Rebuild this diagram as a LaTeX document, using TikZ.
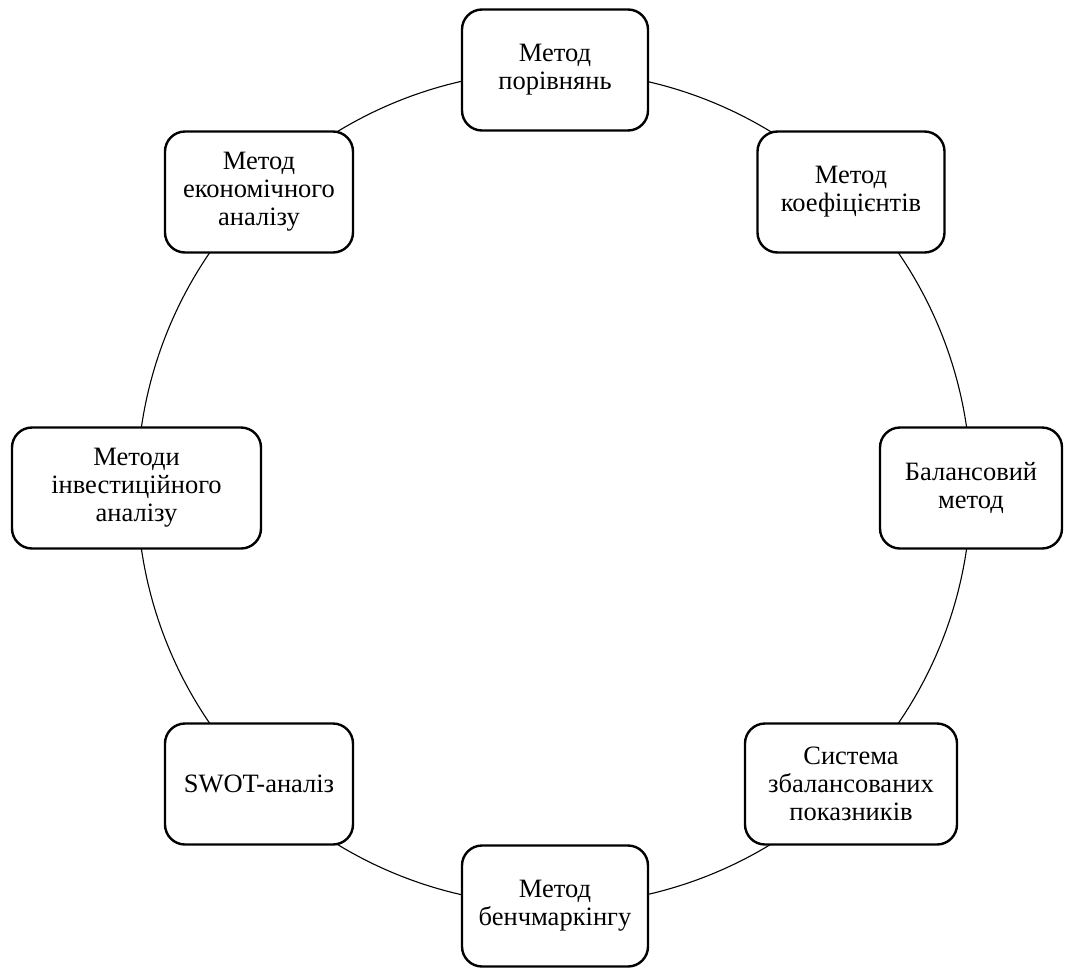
\documentclass[tikz,border=0pt]{standalone}
\usepackage{fontspec}
\setmainfont{Liberation Serif}
\begin{document}
\begin{tikzpicture}[x=1pt,y=-1pt,
  box/.style={draw, line width=2.4pt, rounded corners=20pt, fill=white, align=center,
    minimum height=121pt, inner sep=4pt, font=\fontsize{26.5}{28}\selectfont},
  ring/.style={line width=1.1pt}]
\useasboundingbox (0,0) rectangle (1065,967);
\coordinate (c) at (554,488);
\draw[ring] (c) circle[radius=417pt];
\node[box, minimum width=186pt] (top) at (555,70) {Метод\\порівнянь};
\node[box, minimum width=187pt] (ur) at (851,192) {Метод\\коефіцієнтів};
\node[box, minimum width=182pt] (right) at (971,488) {Балансовий\\метод};
\node[box, minimum width=212pt] (lr) at (851,784) {Система\\збалансованих\\показників};
\node[box, minimum width=186pt] (bottom) at (555,906) {Метод\\бенчмаркінгу};
\node[box, minimum width=188pt] (ll) at (259,784) {SWOT-аналіз};
\node[box, minimum width=249pt] (left) at (136.5,488) {Методи\\інвестиційного\\аналізу};
\node[box, minimum width=188pt] (ul) at (259,192) {Метод\\економічного\\аналізу};
\end{tikzpicture}
\end{document}
